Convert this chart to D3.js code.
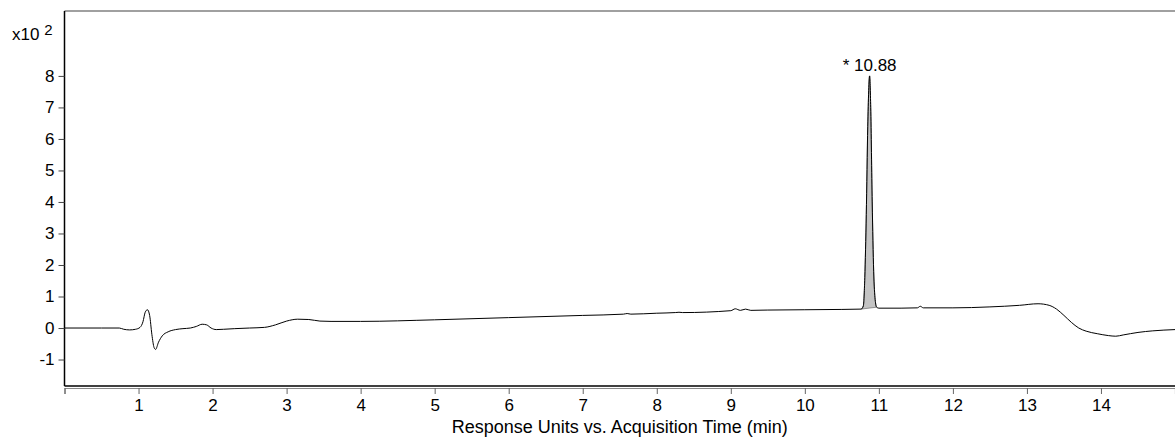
<!DOCTYPE html>
<html>
<head>
<meta charset="utf-8">
<script src="https://cdn.jsdelivr.net/npm/d3@7"></script>
<style>
	body { margin: 0; background: #fff; }
	text { font-family: "Liberation Sans", Arial, sans-serif; fill: #000; }
</style>
</head>
<body>
<svg id="chart" width="1175" height="445"></svg>
<script>
// retention time (min)
var g_times = [0, 0.5, 0.74, 0.8, 0.88, 0.96, 1.02, 1.06, 1.09, 1.12, 1.15, 1.18, 1.21, 1.23, 1.27, 1.32, 1.4, 1.5, 1.6, 1.7,
	1.78, 1.86, 1.92, 1.98, 2.05, 2.15, 2.3, 2.5, 2.7, 2.85, 3.0, 3.15, 3.3, 3.45, 3.6, 4.0, 5.0, 6.0, 7.0, 7.55,
	7.6, 7.65, 8.0, 8.25, 8.3, 8.35, 9.0, 9.06, 9.13, 9.2, 9.27, 9.5, 10.0, 10.5, 10.76, 10.79, 10.81, 10.83, 10.85, 10.875,
	10.89, 10.91, 10.93, 10.95, 10.97, 11.0, 11.3, 11.52, 11.56, 11.6, 12.0, 12.5, 12.9, 13.15, 13.3, 13.4, 13.5, 13.6, 13.7, 13.8,
	13.95, 14.1, 14.2, 14.3, 14.5, 14.7, 15.0];
// response (x10^2)
var g_response = [0, 0, 0, -0.04, -0.06, -0.04, 0.02, 0.2, 0.5, 0.58, 0.4, -0.2, -0.62, -0.68, -0.45, -0.25, -0.12, -0.05, -0.02, 0,
	0.05, 0.12, 0.1, 0, -0.05, -0.04, -0.02, 0, 0.02, 0.1, 0.22, 0.28, 0.27, 0.22, 0.21, 0.21, 0.26, 0.33, 0.4, 0.44,
	0.46, 0.44, 0.47, 0.49, 0.5, 0.49, 0.55, 0.61, 0.56, 0.6, 0.56, 0.57, 0.58, 0.59, 0.6, 0.7, 1.6, 3.6, 6.4, 8.0,
	7.0, 4.0, 1.8, 0.9, 0.66, 0.63, 0.63, 0.64, 0.69, 0.64, 0.64, 0.67, 0.72, 0.77, 0.72, 0.6, 0.4, 0.18, 0, -0.1,
	-0.18, -0.24, -0.26, -0.22, -0.14, -0.09, -0.05];
var g_xTicks = [0, 1, 2, 3, 4, 5, 6, 7, 8, 9, 10, 11, 12, 13, 14];
var g_yTicks = [-1, 0, 1, 2, 3, 4, 5, 6, 7, 8];
var g_peakStart = 10.76, g_peakEnd = 10.97, g_peakTop = 10.875;
var g_peakLabel = "* 10.88";

var svg = d3.select("#chart");
var m_left = 64.5, m_right = 1175, m_top = 11, m_bottom = 386;

var x = d3.scaleLinear().domain([0, 15]).range([m_left, m_right]);
var y = d3.scaleLinear().domain([-1.84, 10.06]).range([m_bottom, m_top]);

var pts = g_times.map(function (t, i) { return [t, g_response[i]]; });
var line = d3.line()
	.x(function (d) { return x(d[0]); })
	.y(function (d) { return y(d[1]); })
	.curve(d3.curveMonotoneX);

// integrated peak, closed along its baseline
var peakPts = pts.filter(function (d) { return d[0] >= g_peakStart && d[0] <= g_peakEnd; });
svg.append("path")
	.attr("d", line(peakPts) + "Z")
	.attr("fill", "#c4c4c4")
	.attr("stroke", "#555")
	.attr("stroke-width", 0.6);

svg.append("path")
	.attr("d", line(pts))
	.attr("fill", "none")
	.attr("stroke", "#000")
	.attr("stroke-width", 1);

// frame
svg.append("line").attr("x1", m_left).attr("x2", m_right).attr("y1", m_top).attr("y2", m_top)
	.attr("stroke", "#808080").attr("stroke-width", 1.5);
svg.append("line").attr("x1", m_left).attr("x2", m_left).attr("y1", m_top).attr("y2", m_bottom)
	.attr("stroke", "#000").attr("stroke-width", 1.5);
svg.append("line").attr("x1", m_left).attr("x2", m_right).attr("y1", m_bottom).attr("y2", m_bottom)
	.attr("stroke", "#000").attr("stroke-width", 1.5);

// y axis (plain hyphen for negatives)
var yAxis = svg.append("g")
	.attr("transform", "translate(" + m_left + ",0)")
	.call(d3.axisLeft(y).tickValues(g_yTicks).tickSize(6).tickPadding(4)
		.tickFormat(function (d) { return String(d); }));
yAxis.select(".domain").remove();
yAxis.selectAll("line").attr("stroke", "#444");
yAxis.selectAll("text").attr("font-size", 17).style("font-family", "Liberation Sans, Arial, sans-serif");

// x axis, drawn just under the frame
var xAxis = svg.append("g")
	.attr("transform", "translate(0," + (m_bottom + 2) + ")")
	.call(d3.axisBottom(x).tickValues(g_xTicks).tickSize(6).tickPadding(5)
		.tickFormat(function (d) { return d == 0 ? "" : d; }));
xAxis.select(".domain").attr("stroke", "#888").attr("stroke-width", 1.2);
xAxis.selectAll("line").attr("stroke", "#666");
xAxis.selectAll("text").attr("font-size", 17).style("font-family", "Liberation Sans, Arial, sans-serif");

// exponent label
var expo = svg.append("text").attr("x", 12).attr("y", 40).attr("font-size", 17);
expo.append("tspan").text("x10 ");
expo.append("tspan").attr("dy", -5).attr("font-size", 15).text("2");

svg.append("text")
	.attr("x", (m_left + m_right) / 2)
	.attr("y", 433)
	.attr("text-anchor", "middle")
	.attr("font-size", 18)
	.text("Response Units vs. Acquisition Time (min)");

svg.append("text")
	.attr("x", x(g_peakTop))
	.attr("y", y(8.0) - 5)
	.attr("text-anchor", "middle")
	.attr("font-size", 17)
	.text(g_peakLabel);
</script>
</body>
</html>
